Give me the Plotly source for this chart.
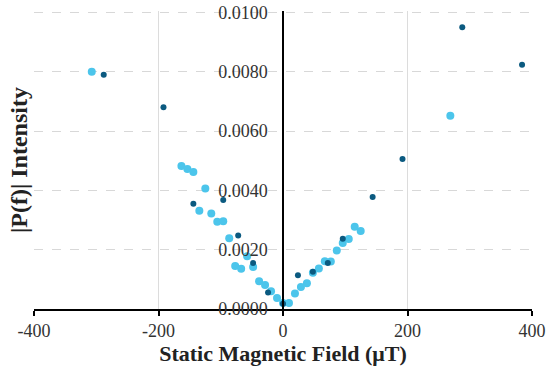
import plotly.graph_objects as go

# Light series
light_x = [-307.2, -163.2, -153.6, -144, -134.4, -124.8, -115.2, -105.6, -96, -86.4,
           -76.8, -67.2, -57.6, -48, -38.4, -28.8, -19.2, -9.6, 0, 9.6, 19.2, 28.8,
           38.4, 48, 57.6, 67.2, 76.8, 86.4, 96, 105.6, 115.2, 124.8, 268.8]
light_y = [0.0080, 0.00482, 0.00472, 0.00462, 0.00331, 0.00406, 0.00322, 0.00294, 0.00296, 0.00239,
           0.00145, 0.00136, 0.00178, 0.00142, 0.00094, 0.00081, 0.00060, 0.00037, 0.00020, 0.00020,
           0.00052, 0.00074, 0.00087, 0.00122, 0.00137, 0.00161, 0.00160, 0.00197, 0.00223,
           0.00236, 0.00277, 0.00263, 0.00652]

# Dark series
dark_x = [-288, -192, -144, -96, -72, -48, -24, 0, 24, 48, 72, 96, 144, 192, 288, 384]
dark_y = [0.0079, 0.0068, 0.00355, 0.00368, 0.00248, 0.00155, 0.00056, 0.00018,
          0.00114, 0.00126, 0.00155, 0.00237, 0.00378, 0.00506, 0.0095, 0.00824]

x_ticks = [-400, -200, 0, 200, 400]
y_ticks = [0, 0.002, 0.004, 0.006, 0.008, 0.010]

serif = "Liberation Serif, Times New Roman, serif"

fig = go.Figure()
fig.add_trace(go.Scatter(x=light_x, y=light_y, mode="markers",
                         marker=dict(color="#4CC5EB", size=8), showlegend=False))
fig.add_trace(go.Scatter(x=dark_x, y=dark_y, mode="markers",
                         marker=dict(color="#0B5A80", size=6), showlegend=False))

fig.update_layout(
    width=550, height=373,
    margin=dict(l=34, r=18, t=11, b=64),
    plot_bgcolor="white", paper_bgcolor="white",
    font=dict(family=serif, size=18, color="#222"),
    xaxis=dict(range=[-400, 400], tickvals=x_ticks, ticktext=[str(v) for v in x_ticks],
               automargin=False, ticklabeloverflow="allow",
               showgrid=True, gridcolor="#DCDCDC", gridwidth=1, zeroline=False,
               showline=True, linecolor="black", linewidth=1.5,
               ticks="outside", ticklen=5, tickcolor="black", tickwidth=1.5,
               tickfont=dict(family=serif, size=18, color="#333"),
               title=dict(text="<b>Static Magnetic Field (μT)</b>",
                          font=dict(family=serif, size=22, color="#222"), standoff=4)),
    yaxis=dict(range=[0, 0.01005], tickvals=y_ticks, tickformat=".4f",
               anchor="free", position=0.5, automargin=False, ticklabeloverflow="allow",
               showgrid=True, gridcolor="#D8D8D8", griddash="dash", gridwidth=1,
               zeroline=False, showline=True, linecolor="black", linewidth=1.5,
               ticks="outside", ticklen=11, tickcolor="rgba(0,0,0,0)",
               tickfont=dict(family=serif, size=18, color="#333")),
    annotations=[dict(text="<b>|P(f)| Intensity</b>", x=0, xref="paper", xanchor="center",
                      xshift=-15, y=0.5, yref="paper", yanchor="middle", textangle=-90,
                      showarrow=False, font=dict(family=serif, size=24, color="#222"))],
)

# Remove the browser's default 8px body margin so the figure fills the window exactly.
fig.write_html("out.html", config={"displayModeBar": False},
               post_script="document.body.style.margin='0px';")
